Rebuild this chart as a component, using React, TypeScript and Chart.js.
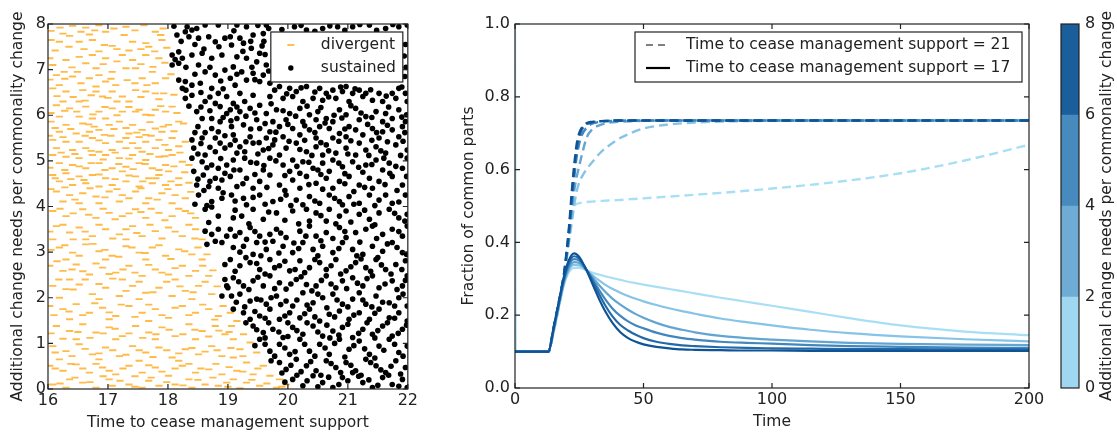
import React, { useEffect, useRef } from "react";
import { Chart, registerables } from "chart.js";

Chart.register(...registerables);

const FONT = "'DejaVu Sans', sans-serif";
const TICK_FONT = { family: FONT, size: 16 };
const LABEL_FONT = { family: FONT, size: 15.5 };
const TEXT_COLOR = "#222";
const ORANGE = "rgba(255,168,20,0.78)";

// ---------------- Left panel: scatter ----------------
const scatterXTitle = "Time to cease management support";
const scatterYTitle = "Additional change needs per commonality change";
const scatterLegendLabels = ["divergent", "sustained"];

const divergentPoints: [number, number][] = [
  [16.41,7.96],[16.63,7.92],[16.85,7.97],[17.30,7.94],
  [16.25,7.79],[16.36,7.74],[16.69,7.77],[16.96,7.83],[17.27,7.76],[17.79,7.83],[17.88,7.76],
  [16.05,7.65],[16.19,7.61],[16.52,7.61],[16.74,7.65],[16.94,7.54],[17.07,7.52],[17.41,7.61],[17.63,7.58],[17.68,7.50],[17.90,7.65],
  [16.08,7.10],[16.30,7.21],[16.52,7.28],[16.74,7.32],[16.96,7.25],[17.24,7.32],[17.41,7.21],[17.63,7.32],[17.85,7.25],
  [16.63,7.14],[16.80,7.03],[17.07,6.95],[17.30,7.03],[17.46,7.03],[16.49,6.95],[16.27,6.95],[17.74,6.95],
  [16.14,6.88],[16.41,6.85],[16.69,6.81],[16.96,6.74],[17.13,6.66],[17.32,6.77],[17.57,6.81],[17.79,6.70],[17.96,6.81],[16.19,6.66],[16.80,6.63],
  [16.08,6.59],[16.30,6.52],[16.58,6.55],[16.72,6.44],[16.91,6.41],[17.07,6.52],[17.24,6.41],[17.46,6.55],[17.63,6.52],[17.79,6.48],[17.93,6.48],[16.52,6.30],[16.25,6.30],[17.35,6.30],
  [16.14,6.22],[16.36,6.15],[16.63,6.19],[16.85,6.08],[17.07,6.15],[17.24,6.08],[17.46,6.08],[17.63,6.01],[17.79,6.12],[17.96,6.08],[16.19,5.97],[16.52,5.97],[16.74,5.93],[16.96,5.93],[18.07,6.19],
  [16.05,5.86],[16.30,5.79],[16.58,5.82],[16.77,5.75],[17.02,5.79],[17.19,5.86],[17.41,5.79],[17.57,5.68],[17.79,5.71],[18.01,5.79],[18.18,5.86],[18.26,5.82],[16.19,5.64],[16.47,5.60],[16.69,5.64],[16.94,5.57],[17.35,5.60],[17.63,5.57],[17.90,5.64],
  [16.08,5.46],[16.30,5.42],[16.52,5.42],[16.74,5.50],[16.96,5.39],[17.19,5.42],[17.41,5.39],[17.63,5.42],[17.85,5.46],[18.07,5.50],[18.29,5.42],[16.14,5.28],[16.41,5.24],[16.63,5.28],[16.85,5.20],[17.07,5.24],[17.30,5.28],[17.57,5.20],[17.79,5.28],[18.01,5.24],
  [16.08,5.13],[16.30,5.09],[16.52,5.06],[16.74,5.13],[16.96,5.13],[17.19,5.06],[17.41,5.13],[17.63,5.02],[17.85,5.09],[18.07,5.13],[18.24,4.98],[18.35,4.91],[16.19,4.95],[16.41,4.91],[16.63,4.84],[16.85,4.95],[17.07,4.84],[17.30,4.87],[17.52,4.95],[17.74,4.84],[17.96,4.91],
  [16.08,4.69],[16.30,4.73],[16.52,4.66],[16.74,4.69],[16.96,4.62],[17.24,4.77],[17.46,4.66],[17.68,4.62],[17.85,4.69],[18.01,4.77],[18.18,4.62],[16.19,4.55],[16.41,4.47],[16.63,4.51],[16.85,4.44],[17.07,4.47],[17.30,4.55],[17.52,4.44],[17.74,4.51],[17.96,4.47],[18.18,4.47],
  [16.14,4.33],[16.36,4.25],[16.58,4.29],[16.80,4.22],[17.02,4.33],[17.24,4.25],[17.46,4.33],[17.68,4.18],[17.90,4.29],[18.12,4.25],[18.29,4.18],[16.25,4.11],[16.52,4.07],[16.85,4.07],[17.19,4.11],[17.63,4.07],[18.07,4.07],
  [16.08,3.90],[16.30,3.79],[16.58,3.94],[16.80,3.75],[17.02,3.86],[17.24,3.79],[17.46,3.94],[17.63,3.75],[17.85,3.86],[18.07,3.79],[18.29,3.90],[18.46,3.75],
  [16.14,3.57],[16.36,3.43],[16.52,3.54],[16.74,3.35],[16.96,3.50],[17.19,3.39],[17.41,3.57],[17.57,3.35],[17.79,3.46],[18.01,3.54],[18.24,3.35],[18.46,3.50],[18.57,3.28],[16.08,3.28],[16.63,3.28],[17.30,3.28],
  [16.19,3.10],[16.41,2.99],[16.63,3.17],[16.85,3.02],[17.07,2.92],[17.30,3.13],[17.52,2.99],[17.74,3.10],[17.96,2.92],[18.18,3.06],[18.40,2.95],[18.57,2.84],[16.30,2.84],[16.96,2.84],[17.63,2.84],
  [16.03,2.70],[16.25,2.59],[16.47,2.73],[16.69,2.51],[16.91,2.66],[17.13,2.55],[17.35,2.70],[17.57,2.48],[17.79,2.62],[18.01,2.51],[18.24,2.70],[18.46,2.59],[18.68,2.48],[16.36,2.40],[17.24,2.40],[18.12,2.40],
  [16.08,2.26],[16.30,2.19],[16.52,2.29],[16.74,2.08],[16.96,2.22],[17.19,2.04],[17.41,2.26],[17.63,2.11],[17.85,2.22],[18.07,2.04],[18.29,2.15],[18.51,2.26],[18.73,2.08],[16.19,2.00],[16.85,1.97],[17.52,1.97],[18.40,1.97],
  [16.03,1.82],[16.25,1.75],[16.47,1.86],[16.69,1.67],[16.91,1.78],[17.13,1.60],[17.35,1.82],[17.57,1.67],[17.79,1.75],[18.01,1.56],[18.24,1.82],[18.46,1.67],[18.68,1.75],[18.84,1.60],[16.36,1.53],[17.02,1.53],[17.68,1.49],
  [16.14,1.38],[16.36,1.27],[16.58,1.42],[16.80,1.24],[17.02,1.35],[17.24,1.16],[17.46,1.38],[17.68,1.24],[17.90,1.35],[18.12,1.16],[18.35,1.42],[18.57,1.27],[18.79,1.38],[18.95,1.20],[16.47,1.09],[17.13,1.09],[17.79,1.09],[18.46,1.09],
  [16.08,0.94],[16.30,0.83],[16.52,0.98],[16.74,0.76],[16.96,0.91],[17.19,0.72],[17.41,0.94],[17.63,0.80],[17.85,0.91],[18.07,0.69],[18.29,0.87],[18.51,0.76],[18.73,0.94],[18.90,0.72],[16.19,0.65],[16.85,0.65],[17.52,0.62],[18.18,0.62],
  [16.03,0.51],[16.25,0.40],[16.47,0.54],[16.69,0.36],[16.91,0.47],[17.13,0.32],[17.35,0.51],[17.57,0.36],[17.79,0.47],[18.01,0.29],[18.24,0.51],[18.46,0.36],[18.68,0.43],[18.90,0.32],[16.36,0.21],[17.02,0.21],[17.68,0.18],[18.35,0.21],
  [16.08,0.10],[16.30,0.03],[16.58,0.14],[16.80,0.03],[17.07,0.07],[17.35,0.10],[17.57,0.03],[17.85,0.07],[18.12,0.10],[18.40,0.03],[18.62,0.10],[18.84,0.07],[18.98,0.14],
  [19.04,1.67],[19.15,1.49],[19.06,1.38],[19.26,1.20],[19.09,1.09],[19.37,1.02],[19.20,0.87],[19.48,0.80],[19.09,0.69],[19.31,0.58],[19.59,0.51],[19.15,0.40],[19.42,0.32],[19.70,0.29],[19.86,0.21],[19.09,0.21],[19.31,0.14],[19.53,0.07],[19.81,0.03],[19.97,0.10],[19.20,0.02],
  [16.05,7.85],[16.20,7.92],[16.55,7.83],[16.78,7.86],[17.10,7.90],[17.45,7.86],[17.60,7.97],[17.92,7.90],
  [16.12,7.42],[16.35,7.50],[16.60,7.45],[16.85,7.40],[17.15,7.45],[17.35,7.42],[17.55,7.45],[17.78,7.40],[17.98,7.48],
  [16.03,7.25],[16.40,7.05],[16.92,7.12],[17.15,7.18],[17.55,7.12],[17.75,7.06],[17.95,7.15],
  [16.03,6.78],[16.28,6.80],[16.55,6.70],[16.85,6.88],[17.05,6.80],[17.45,6.70],[17.65,6.66],[18.05,6.90],
  [16.15,6.42],[16.42,6.40],[16.62,6.32],[16.80,6.52],[17.00,6.38],[17.15,6.30],[17.55,6.40],[17.85,6.35],[18.10,6.45],
  [16.05,6.05],[16.28,6.10],[16.48,6.08],[16.75,6.02],[16.95,6.18],[17.15,6.00],[17.35,6.18],[17.52,6.12],[17.72,6.00],[17.88,6.20],[18.15,6.05],
  [16.12,5.72],[16.38,5.70],[16.68,5.80],[16.85,5.68],[17.10,5.70],[17.30,5.72],[17.48,5.62],[17.70,5.85],[17.92,5.75],[18.10,5.65],
  [16.02,5.55],[16.25,5.52],[16.62,5.55],[16.85,5.45],[17.05,5.55],[17.30,5.50],[17.52,5.52],[17.72,5.55],[17.95,5.35],[18.18,5.32],
  [16.22,5.18],[16.45,5.15],[16.72,5.22],[16.92,5.03],[17.12,5.18],[17.35,5.05],[17.50,5.28],[17.70,5.15],[17.95,5.10],[18.20,5.18],
  [16.03,4.85],[16.28,4.80],[16.52,4.88],[16.72,4.95],[16.95,4.80],[17.18,4.93],[17.42,4.82],[17.62,4.93],[17.85,4.80],[18.10,4.88],[18.28,4.75],
  [16.12,4.62],[16.38,4.60],[16.60,4.58],[16.85,4.70],[17.12,4.60],[17.35,4.68],[17.58,4.55],[17.80,4.62],[18.05,4.55],[18.35,4.52],
  [16.05,4.38],[16.28,4.42],[16.45,4.15],[16.70,4.40],[16.95,4.20],[17.15,4.38],[17.35,4.18],[17.55,4.40],[17.82,4.15],[18.00,4.38],[18.38,4.32],
  [16.20,3.95],[16.42,3.85],[16.68,3.82],[16.92,3.95],[17.12,3.72],[17.35,3.85],[17.55,3.88],[17.72,3.95],[17.95,3.70],[18.18,3.95],[18.38,3.85],
  [16.03,3.45],[16.25,3.60],[16.42,3.28],[16.62,3.45],[16.85,3.60],[17.08,3.30],[17.30,3.50],[17.48,3.42],[17.70,3.60],[17.90,3.30],[18.12,3.45],[18.35,3.60],[18.45,3.30],
  [16.05,3.05],[16.28,3.15],[16.52,2.92],[16.75,3.18],[16.95,3.05],[17.18,2.90],[17.40,3.10],[17.62,2.98],[17.85,3.15],[18.05,2.85],[18.28,3.02],[18.50,3.10],[18.65,2.95],
  [16.15,2.80],[16.40,2.62],[16.58,2.58],[16.80,2.75],[17.02,2.52],[17.25,2.62],[17.45,2.55],[17.68,2.72],[17.90,2.55],[18.12,2.65],[18.35,2.48],[18.58,2.70],[18.75,2.60],
  [16.18,2.40],[16.42,2.18],[16.62,2.40],[16.85,2.30],[17.08,2.42],[17.30,2.15],[17.52,2.35],[17.75,2.12],[17.98,2.35],[18.20,2.25],[18.42,2.12],[18.62,2.35],[18.82,2.25],
  [16.10,1.62],[16.35,1.70],[16.58,1.62],[16.78,1.88],[17.02,1.68],[17.22,1.85],[17.45,1.58],[17.68,1.85],[17.90,1.62],[18.12,1.78],[18.35,1.62],[18.58,1.85],[18.78,1.52],[18.92,1.82],
  [16.05,1.22],[16.25,1.10],[16.50,1.25],[16.70,1.12],[16.92,1.22],[17.12,1.32],[17.35,1.22],[17.58,1.12],[17.80,1.20],[18.02,1.30],[18.25,1.20],[18.45,1.30],[18.68,1.15],[18.85,1.28],[19.02,1.25],
  [16.12,0.80],[16.40,0.72],[16.62,0.88],[16.85,0.78],[17.08,0.85],[17.30,0.75],[17.52,0.85],[17.75,0.70],[17.98,0.85],[18.18,0.78],[18.40,0.90],[18.62,0.82],[18.82,0.85],[19.05,0.90],[19.25,0.72],
  [16.12,0.45],[16.38,0.55],[16.58,0.45],[16.80,0.55],[17.02,0.40],[17.25,0.45],[17.45,0.28],[17.68,0.52],[17.90,0.38],[18.12,0.45],[18.35,0.55],[18.55,0.45],[18.80,0.55],[19.02,0.48],[19.25,0.38],[19.50,0.45],
  [16.20,0.12],[16.45,0.25],[16.70,0.15],[16.92,0.28],[17.20,0.18],[17.45,0.05],[17.72,0.25],[17.98,0.15],[18.25,0.08],[18.50,0.20],[18.75,0.25],[19.00,0.05],[19.40,0.20],[19.65,0.12],[19.90,0.05],
];

const sustainedPoints: [number, number][] = [
  [19.15,7.98],[19.31,7.94],[19.50,7.97],[19.64,7.98],[20.11,7.94],[20.31,7.87],[20.58,7.90],[20.83,7.94],[21.08,7.94],[21.36,7.98],[21.63,7.90],[21.85,7.94],[21.99,7.98],
  [19.04,7.72],[19.20,7.69],[19.42,7.76],[19.59,7.79],[21.97,7.05],[21.95,6.85],
  [19.06,7.54],[19.26,7.58],[19.39,7.47],[19.53,7.36],[19.15,7.28],[19.31,7.25],[19.48,7.17],[19.64,7.10],[19.09,7.06],[19.23,6.95],[19.42,6.92],[19.59,6.88],[19.04,6.81],[19.31,6.77],[19.53,6.74],[19.70,6.70],[19.12,6.66],
  [19.86,6.63],[20.03,6.59],[20.14,6.52],[20.31,6.63],[20.53,6.59],[20.64,6.48],[20.75,6.55],[20.91,6.52],[20.97,6.63],[21.08,6.48],[21.19,6.55],[21.30,6.48],[21.52,6.48],[21.74,6.48],[21.85,6.59],[21.96,6.48],[19.20,6.48],[19.42,6.44],[19.70,6.41],[19.92,6.37],[20.08,6.41],[20.25,6.30],[20.42,6.37],[20.58,6.33],[20.80,6.37],[21.02,6.30],[21.25,6.41],[21.41,6.33],[21.58,6.30],[21.80,6.37],[21.99,6.30],[19.09,6.26],[19.28,6.30],[19.53,6.22],
  [19.04,6.12],[19.20,6.08],[19.37,6.15],[19.64,6.04],[19.81,6.12],[20.03,6.04],[20.20,6.15],[20.36,6.01],[20.50,6.08],[20.64,5.93],[20.86,6.12],[20.97,6.01],[21.13,6.15],[21.30,5.97],[21.47,6.08],[21.63,6.04],[21.85,6.12],[21.98,6.01],[19.15,5.93],[19.48,5.90],[19.75,5.86],[19.97,5.90],[20.25,5.86],[20.47,5.90],[20.75,5.86],[21.19,5.90],[21.58,5.86],[21.74,5.93],[21.96,5.86],
  [19.06,5.75],[19.26,5.79],[19.53,5.71],[19.70,5.64],[19.86,5.75],[20.08,5.71],[20.36,5.68],[20.53,5.75],[20.69,5.71],[20.86,5.60],[21.02,5.75],[21.13,5.68],[21.25,5.57],[21.41,5.71],[21.58,5.64],[21.74,5.68],[21.91,5.75],[19.09,5.57],[19.37,5.53],[19.64,5.50],[19.92,5.53],[20.20,5.57],[20.47,5.50],[20.75,5.50],[20.97,5.53],[21.52,5.50],[21.85,5.53],
  [19.04,5.35],[19.20,5.31],[19.42,5.39],[19.59,5.24],[19.75,5.35],[19.97,5.28],[20.14,5.39],[20.31,5.20],[20.47,5.31],[20.64,5.35],[20.80,5.17],[20.97,5.28],[21.19,5.39],[21.30,5.24],[21.47,5.31],[21.63,5.17],[21.80,5.35],[21.99,5.24],[19.15,5.17],[19.86,5.13],[20.58,5.13],[21.13,5.13],
  [19.09,5.02],[19.28,5.06],[19.48,4.95],[19.70,5.06],[19.92,4.91],[20.08,5.02],[20.25,4.98],[20.42,4.84],[20.58,4.95],[20.75,5.02],[20.91,4.87],[21.08,4.98],[21.30,4.91],[21.47,5.02],[21.69,4.95],[21.91,4.84],[21.99,5.06],[19.20,4.80],[19.59,4.80],[20.03,4.77],[20.69,4.77],[21.58,4.80],
  [19.04,4.66],[19.31,4.62],[19.53,4.55],[19.70,4.69],[19.86,4.47],[20.08,4.58],[20.31,4.66],[20.47,4.51],[20.64,4.62],[20.86,4.55],[21.02,4.66],[21.19,4.47],[21.36,4.62],[21.52,4.55],[21.74,4.66],[21.91,4.47],[19.15,4.44],[19.42,4.40],[20.20,4.40],[20.75,4.40],[21.41,4.40],
  [19.06,4.25],[19.26,4.18],[19.53,4.25],[19.75,4.11],[19.97,4.25],[20.14,4.14],[20.36,4.22],[20.53,4.07],[20.69,4.25],[20.86,4.11],[21.02,4.22],[21.19,4.07],[21.36,4.25],[21.52,4.14],[21.74,4.07],[21.96,4.25],[19.31,4.04],[20.25,4.04],[20.91,4.04],[21.63,4.25],
  [18.32,7.94],[18.40,7.87],[18.29,7.83],[18.48,7.90],[18.62,7.98],[18.84,7.98],[18.15,7.76],[18.35,7.72],[18.51,7.69],[18.68,7.72],[18.79,7.61],[18.95,7.69],[18.07,7.32],[18.18,7.39],[18.24,7.25],[18.40,7.32],[18.57,7.36],[18.73,7.25],[18.90,7.32],[18.07,7.10],[18.18,7.14],[18.51,7.10],[18.62,6.95],[18.79,6.88],[18.95,6.99],
  [18.18,6.77],[18.29,6.74],[18.24,6.59],[18.40,6.66],[18.54,6.70],[18.73,6.59],[18.84,6.48],[18.98,6.41],[18.29,6.37],[18.40,6.44],[18.62,6.30],[18.79,6.26],[18.87,6.19],[18.48,6.08],[18.57,5.93],[18.73,5.93],[18.87,5.86],[18.98,6.04],[18.73,5.71],[18.84,5.64],
  [18.40,5.46],[18.57,5.50],[18.79,5.50],[18.87,5.39],[18.43,5.28],[18.62,5.13],[18.79,5.20],[18.95,5.28],[18.40,5.06],[18.57,4.98],[18.73,4.91],[18.84,4.84],[18.98,4.91],[18.43,4.77],[18.59,4.69],[18.79,4.62],[18.95,4.73],[18.48,4.47],[18.68,4.44],[18.84,4.40],[18.51,4.25],[18.73,4.11],[18.90,4.18],
  [18.62,3.94],[18.73,3.99],[18.68,3.65],[18.62,3.46],[18.73,3.39],[18.84,3.50],[18.79,3.24],[18.65,3.17],[18.90,3.21],[18.98,3.35],[18.95,2.73],[18.95,2.40],[18.90,2.04],[19.00,2.22],[18.84,3.79],
  [19.09,3.75],[19.23,3.79],[19.42,3.94],[19.81,3.86],[20.08,3.90],[20.31,3.94],[20.47,3.86],[20.69,3.94],[20.86,3.79],[20.97,3.90],[21.19,3.83],[21.36,3.72],[21.52,3.86],[21.69,3.94],[21.85,3.75],[21.99,3.83],[20.36,3.68],[20.64,3.68],[19.59,3.72],
  [19.04,3.50],[19.20,3.43],[19.37,3.54],[19.53,3.35],[19.70,3.39],[19.81,3.50],[19.97,3.32],[20.20,3.46],[20.36,3.57],[20.47,3.35],[20.64,3.43],[20.86,3.54],[20.97,3.32],[21.13,3.43],[21.30,3.50],[21.41,3.57],[21.58,3.39],[21.74,3.50],[21.91,3.35],[21.99,3.57],[19.31,3.28],
  [19.09,3.10],[19.26,3.13],[19.48,3.21],[19.64,3.06],[19.75,3.24],[19.92,3.13],[20.08,2.99],[20.25,3.21],[20.42,3.06],[20.58,3.13],[20.75,2.99],[20.91,3.21],[21.08,3.06],[21.25,2.95],[21.41,3.13],[21.58,3.02],[21.74,3.21],[21.91,2.99],[19.42,2.95],
  [19.04,2.84],[19.20,2.70],[19.37,2.77],[19.53,2.62],[19.70,2.84],[19.86,2.70],[20.03,2.59],[20.20,2.81],[20.36,2.66],[20.53,2.77],[20.64,2.62],[20.80,2.84],[20.97,2.59],[21.13,2.77],[21.30,2.66],[21.47,2.84],[21.63,2.62],[21.80,2.73],[21.96,2.81],
  [19.09,2.44],[19.26,2.26],[19.42,2.37],[19.59,2.26],[19.70,2.48],[19.86,2.33],[19.97,2.19],[20.14,2.40],[20.31,2.29],[20.47,2.26],[20.64,2.48],[20.80,2.22],[20.91,2.37],[21.08,2.44],[21.25,2.26],[21.41,2.48],[21.52,2.22],[21.74,2.37],[21.91,2.26],[21.99,2.48],[18.98,2.26],
  [19.06,2.04],[19.20,2.08],[19.37,1.93],[19.48,1.97],[19.64,1.86],[19.81,2.04],[19.97,1.93],[20.08,1.82],[20.25,2.11],[20.42,1.89],[20.58,2.00],[20.75,2.08],[20.91,1.86],[21.08,1.97],[21.19,2.11],[21.30,1.86],[21.47,2.04],[21.69,1.89],[21.85,2.00],[21.99,1.82],
  [19.09,1.75],[19.26,1.67],[19.37,1.53],[19.53,1.60],[19.70,1.75],[19.86,1.53],[20.03,1.67],[20.20,1.56],[20.36,1.75],[20.53,1.49],[20.69,1.64],[20.86,1.71],[21.02,1.53],[21.19,1.67],[21.36,1.53],[21.52,1.75],[21.69,1.56],[21.85,1.67],[21.99,1.49],
  [19.42,1.38],[19.59,1.24],[19.75,1.31],[19.92,1.13],[20.08,1.35],[20.25,1.20],[20.42,1.38],[20.58,1.16],[20.75,1.27],[20.91,1.35],[21.08,1.13],[21.25,1.31],[21.41,1.20],[21.58,1.38],[21.74,1.16],[21.91,1.31],
  [19.53,1.09],[19.70,0.83],[19.86,0.98],[20.03,0.76],[20.20,1.09],[20.36,0.83],[20.53,0.98],[20.69,0.76],[20.86,1.09],[21.02,0.87],[21.19,1.05],[21.36,0.76],[21.52,0.94],[21.69,1.09],[21.85,0.80],[21.99,0.94],
  [19.86,0.58],[19.97,0.43],[20.14,0.65],[20.31,0.51],[20.47,0.40],[20.64,0.62],[20.80,0.47],[20.97,0.58],[21.13,0.40],[21.30,0.65],[21.47,0.51],[21.63,0.36],[21.80,0.62],[21.96,0.47],
  [20.08,0.21],[20.25,0.07],[20.42,0.29],[20.58,0.14],[20.75,0.03],[20.91,0.25],[21.08,0.36],[21.25,0.14],[21.41,0.03],[21.58,0.25],[21.74,0.10],[21.91,0.21],[21.99,0.03],
  [19.10,7.85],[19.38,7.62],[19.57,7.52],[19.68,7.90],[19.25,7.40],[19.62,7.33],[19.40,7.05],[19.68,6.97],[19.15,6.90],[19.45,6.78],[19.60,7.62],
  [19.90,7.88],[20.22,7.97],[20.45,7.84],[20.70,7.96],[20.95,7.86],[21.20,7.99],[21.48,7.86],[21.75,7.99],[21.96,7.55],[21.94,7.30],
  [19.78,6.55],[19.98,6.47],[20.22,6.60],[20.45,6.51],[20.68,6.40],[20.88,6.62],[21.12,6.58],[21.38,6.56],[21.64,6.42],[21.90,6.62],
  [19.15,6.18],[19.45,6.05],[19.72,6.25],[19.92,6.10],[20.13,5.98],[20.32,6.20],[20.55,6.17],[20.77,6.00],[21.05,6.21],[21.22,6.05],[21.40,5.95],[21.68,6.18],[21.90,5.96],[19.30,5.98],[20.90,5.94],
  [19.05,5.88],[19.38,5.70],[19.62,5.82],[19.80,5.63],[20.00,5.80],[20.28,5.77],[20.45,5.62],[20.62,5.83],[20.95,5.70],[21.33,5.80],[21.48,5.62],[21.66,5.78],[21.95,5.62],
  [19.12,5.45],[19.30,5.42],[19.52,5.40],[19.78,5.46],[20.02,5.43],[20.28,5.45],[20.55,5.40],[20.85,5.43],[21.05,5.44],[21.40,5.45],[21.66,5.42],[21.92,5.43],[19.28,5.20],[19.50,5.15],[19.68,5.27],[20.20,5.25],[20.40,5.12],[20.68,5.22],[21.00,5.15],[21.35,5.12],[21.55,5.22],[21.88,5.12],
  [19.38,4.97],[19.60,4.90],[19.80,5.00],[20.15,4.88],[20.35,4.97],[20.50,4.80],[20.85,4.95],[21.18,4.86],[21.40,4.92],[21.60,5.06],[21.80,4.88],[19.10,4.80],[19.45,4.70],[19.95,4.68],[20.20,4.73],[20.55,4.70],[20.95,4.72],[21.25,4.75],[21.70,4.73],[21.98,4.66],
  [19.25,4.50],[19.65,4.42],[19.95,4.35],[20.35,4.48],[20.58,4.38],[20.95,4.50],[21.10,4.33],[21.28,4.42],[21.62,4.48],[21.82,4.35],[19.12,4.12],[19.42,4.20],[19.62,4.05],[19.88,4.16],[20.05,4.02],[20.45,4.12],[20.78,4.18],[21.10,4.05],[21.45,4.02],[21.85,4.10],
  [18.10,7.95],[18.22,7.62],[18.45,7.55],[18.60,7.45],[18.85,7.50],[18.12,7.22],[18.30,7.05],[18.45,6.90],[18.70,7.05],[18.88,6.75],[18.30,6.55],[18.55,6.50],[18.70,6.40],[18.92,6.58],[18.35,6.20],[18.55,6.18],[18.70,6.10],[18.92,5.95],[18.50,5.75],[18.62,5.62],[18.95,5.55],[18.45,5.62],[18.55,5.38],[18.70,5.30],[18.50,5.15],[18.88,5.05],[18.65,4.85],[18.50,4.60],[18.70,4.55],[18.90,4.58],[18.60,4.35],[18.92,4.30],[18.45,4.05],[18.65,4.02],
  [19.12,3.92],[19.35,3.62],[19.68,3.88],[19.95,3.70],[20.18,3.62],[20.55,3.80],[20.80,3.62],[21.05,3.66],[21.28,3.92],[21.45,3.60],[21.78,3.85],[21.95,3.68],
  [19.12,3.35],[19.45,3.45],[19.62,3.22],[19.88,3.42],[20.10,3.20],[20.30,3.35],[20.55,3.25],[20.75,3.30],[20.95,3.45],[21.20,3.22],[21.48,3.30],[21.66,3.18],[21.85,3.45],[19.20,3.00],[19.55,2.92],[19.85,2.98],[20.18,3.08],[20.50,2.92],[20.85,3.08],[21.15,2.92],[21.50,2.88],[21.82,3.10],[21.98,2.95],
  [19.12,2.58],[19.30,2.88],[19.48,2.75],[19.62,2.52],[19.78,2.66],[19.95,2.80],[20.12,2.62],[20.28,2.55],[20.45,2.84],[20.72,2.70],[20.88,2.52],[21.05,2.68],[21.22,2.85],[21.38,2.58],[21.56,2.72],[21.72,2.52],[21.90,2.62],
  [19.18,2.35],[19.35,2.18],[19.50,2.45],[19.78,2.20],[20.05,2.30],[20.22,2.46],[20.40,2.15],[20.56,2.38],[20.72,2.30],[20.98,2.20],[21.16,2.32],[21.32,2.42],[21.62,2.30],[21.82,2.18],[21.96,2.38],
  [19.14,1.90],[19.28,1.80],[19.55,1.95],[19.72,2.00],[19.88,1.85],[20.15,1.95],[20.32,1.84],[20.50,2.08],[20.65,1.78],[20.82,1.95],[21.00,1.80],[21.25,1.95],[21.40,1.80],[21.58,1.90],[21.78,1.82],[21.92,2.08],[19.45,1.70],[19.62,1.55],[19.95,1.60],[20.28,1.65],[20.45,1.58],[20.78,1.58],[21.10,1.62],[21.45,1.66],[21.78,1.55],
  [19.30,1.45],[19.48,1.30],[19.68,1.45],[19.85,1.25],[20.00,1.45],[20.15,1.28],[20.32,1.45],[20.50,1.25],[20.65,1.40],[20.85,1.18],[21.00,1.42],[21.18,1.22],[21.32,1.45],[21.50,1.28],[21.66,1.45],[21.84,1.22],[21.98,1.40],[19.62,1.12],[20.00,1.15],[20.70,1.12],[21.45,1.12],
  [19.45,0.95],[19.62,0.98],[19.78,0.72],[19.95,0.90],[20.12,0.82],[20.28,0.98],[20.45,0.72],[20.62,0.90],[20.78,1.00],[20.95,0.70],[21.10,0.95],[21.28,0.88],[21.45,0.68],[21.60,0.85],[21.78,0.98],[21.92,0.72],
  [19.72,0.62],[19.90,0.35],[20.05,0.52],[20.22,0.38],[20.38,0.60],[20.55,0.30],[20.72,0.56],[20.88,0.36],[21.05,0.52],[21.22,0.30],[21.38,0.58],[21.55,0.42],[21.72,0.50],[21.88,0.33],
  [19.95,0.15],[20.15,0.30],[20.32,0.18],[20.50,0.05],[20.68,0.26],[20.85,0.10],[21.00,0.18],[21.18,0.28],[21.35,0.20],[21.50,0.08],[21.68,0.30],[21.85,0.06],
];

// ---------------- Right panel: lines ----------------
const lineXTitle = "Time";
const lineYTitle = "Fraction of common parts";
const lineLegendLabels = [
  "Time to cease management support = 21",
  "Time to cease management support = 17",
];

// cease = 17 (solid), one array per change-need level, lightest -> darkest
const solidTimes = [0, 0.3, 13, 15, 17, 19, 21, 23, 25, 27, 29, 31, 33, 35, 38, 41, 44, 47, 50, 55, 60, 65, 70, 80, 90, 100, 115, 130, 150, 175, 200];
const solidLevel1 = [1.0, 0.1, 0.1, 0.152, 0.22, 0.282, 0.318, 0.33, 0.33, 0.326, 0.32, 0.315, 0.311, 0.307, 0.302, 0.297, 0.292, 0.288, 0.284, 0.278, 0.272, 0.266, 0.26, 0.248, 0.237, 0.226, 0.209, 0.192, 0.172, 0.155, 0.145];
const solidLevel2 = [0.1, 0.1, 0.1, 0.155, 0.222, 0.285, 0.325, 0.338, 0.337, 0.328, 0.317, 0.305, 0.294, 0.284, 0.272, 0.262, 0.253, 0.245, 0.238, 0.228, 0.219, 0.211, 0.204, 0.191, 0.181, 0.172, 0.16, 0.151, 0.142, 0.134, 0.128];
const solidLevel3 = [0.1, 0.1, 0.1, 0.158, 0.225, 0.29, 0.33, 0.346, 0.343, 0.33, 0.314, 0.297, 0.28, 0.265, 0.245, 0.229, 0.215, 0.203, 0.193, 0.179, 0.168, 0.16, 0.153, 0.143, 0.137, 0.133, 0.128, 0.124, 0.121, 0.119, 0.118];
const solidLevel4 = [0.1, 0.1, 0.1, 0.16, 0.228, 0.295, 0.338, 0.354, 0.35, 0.333, 0.312, 0.289, 0.266, 0.245, 0.218, 0.198, 0.183, 0.172, 0.164, 0.152, 0.143, 0.137, 0.133, 0.127, 0.124, 0.122, 0.118, 0.115, 0.113, 0.111, 0.11];
const solidLevel5 = [0.1, 0.1, 0.1, 0.163, 0.232, 0.3, 0.345, 0.362, 0.355, 0.335, 0.31, 0.282, 0.254, 0.228, 0.196, 0.173, 0.158, 0.146, 0.137, 0.127, 0.121, 0.117, 0.115, 0.112, 0.11, 0.109, 0.108, 0.107, 0.107, 0.106, 0.106];
const solidLevel6 = [0.1, 0.1, 0.1, 0.165, 0.235, 0.305, 0.352, 0.37, 0.36, 0.335, 0.305, 0.272, 0.24, 0.212, 0.178, 0.153, 0.137, 0.127, 0.12, 0.113, 0.109, 0.106, 0.105, 0.104, 0.103, 0.103, 0.102, 0.102, 0.102, 0.102, 0.102];

// cease = 21 (dashed)
const dashedTimes = [0, 13, 15, 17, 19, 20, 21, 22, 23, 24, 25, 26, 28, 30, 33, 36, 40, 45, 50, 60, 70, 80, 100, 125, 150, 175, 200];
const dashedLevel1 = [0.1, 0.1, 0.152, 0.22, 0.3, 0.36, 0.44, 0.49, 0.502, 0.506, 0.508, 0.509, 0.511, 0.512, 0.514, 0.515, 0.516, 0.519, 0.521, 0.526, 0.531, 0.536, 0.548, 0.566, 0.59, 0.625, 0.668];
const dashedLevel2 = [0.1, 0.1, 0.155, 0.222, 0.3, 0.35, 0.4, 0.45, 0.5, 0.54, 0.565, 0.58, 0.603, 0.62, 0.645, 0.663, 0.683, 0.7, 0.713, 0.724, 0.729, 0.732, 0.734, 0.735, 0.735, 0.735, 0.735];
const dashedLevel3 = [0.1, 0.1, 0.158, 0.225, 0.3, 0.355, 0.41, 0.48, 0.54, 0.58, 0.61, 0.64, 0.69, 0.71, 0.722, 0.728, 0.731, 0.733, 0.734, 0.735, 0.735, 0.735, 0.735, 0.735, 0.735, 0.735, 0.735];
const dashedLevel4 = [0.1, 0.1, 0.16, 0.228, 0.305, 0.36, 0.42, 0.5, 0.575, 0.635, 0.672, 0.695, 0.716, 0.726, 0.731, 0.733, 0.734, 0.735, 0.735, 0.735, 0.735, 0.735, 0.735, 0.735, 0.735, 0.735, 0.735];
const dashedLevel5 = [0.1, 0.1, 0.163, 0.232, 0.31, 0.365, 0.43, 0.515, 0.595, 0.655, 0.69, 0.71, 0.725, 0.73, 0.733, 0.734, 0.735, 0.735, 0.735, 0.735, 0.735, 0.735, 0.735, 0.735, 0.735, 0.735, 0.735];
const dashedLevel6 = [0.1, 0.1, 0.165, 0.235, 0.31, 0.37, 0.44, 0.53, 0.61, 0.67, 0.7, 0.715, 0.728, 0.731, 0.733, 0.734, 0.735, 0.735, 0.735, 0.735, 0.735, 0.735, 0.735, 0.735, 0.735, 0.735, 0.735];

const lineColors = ["#a9dff5", "#86c4e7", "#62a5d1", "#4186bd", "#2369a7", "#0e5396"];

// ---------------- Colorbar ----------------
const colorbarTitle = "Additional change needs per commonality change";
const colorbarBands = [2, 2, 2, 2];
const colorbarColors = ["#9fd6f0", "#6eacd6", "#468abe", "#1a5e9c"];

// ---------------- plugins ----------------
const framePlugin = {
  id: "frame",
  afterDraw(chart: any, _a: any, opts: any) {
    const { ctx, chartArea } = chart;
    const { left, top, right, bottom } = chartArea;
    ctx.save();
    ctx.strokeStyle = TEXT_COLOR;
    ctx.lineWidth = 1.2;
    if (opts && opts.ticks) {
      const tl = 5;
      const xs = chart.scales.x;
      const ys = chart.scales.y;
      ctx.beginPath();
      xs.ticks.forEach((t: any) => {
        const p = xs.getPixelForValue(t.value);
        ctx.moveTo(p, bottom); ctx.lineTo(p, bottom - tl);
        ctx.moveTo(p, top); ctx.lineTo(p, top + tl);
      });
      ys.ticks.forEach((t: any) => {
        const p = ys.getPixelForValue(t.value);
        ctx.moveTo(left, p); ctx.lineTo(left + tl, p);
        ctx.moveTo(right, p); ctx.lineTo(right - tl, p);
      });
      ctx.stroke();
    }
    ctx.strokeRect(left, top, right - left, bottom - top);
    ctx.restore();
  },
};

function drawLegendBox(ctx: any, x0: number, y0: number, w: number, h: number) {
  ctx.fillStyle = "#fff";
  ctx.fillRect(x0, y0, w, h);
  ctx.strokeStyle = TEXT_COLOR;
  ctx.lineWidth = 1.2;
  ctx.strokeRect(x0, y0, w, h);
}

const scatterLegendPlugin = {
  id: "scatterLegend",
  afterDraw(chart: any) {
    const { ctx, chartArea } = chart;
    const w = 132, h = 50;
    const x0 = chartArea.right - 5 - w;
    const y0 = chartArea.top + 8;
    ctx.save();
    drawLegendBox(ctx, x0, y0, w, h);
    ctx.strokeStyle = ORANGE;
    ctx.lineWidth = 1.9;
    ctx.beginPath();
    ctx.moveTo(x0 + 16.5, y0 + 13); ctx.lineTo(x0 + 23.5, y0 + 13);
    ctx.stroke();
    ctx.fillStyle = "#000";
    ctx.beginPath();
    ctx.arc(x0 + 20, y0 + 36, 2.7, 0, Math.PI * 2);
    ctx.fill();
    ctx.fillStyle = TEXT_COLOR;
    ctx.font = `${LABEL_FONT.size}px ${FONT}`;
    ctx.textBaseline = "middle";
    ctx.textAlign = "left";
    ctx.fillText(scatterLegendLabels[0], x0 + 50, y0 + 13);
    ctx.fillText(scatterLegendLabels[1], x0 + 50, y0 + 36);
    ctx.restore();
  },
};

const lineLegendPlugin = {
  id: "lineLegend",
  afterDraw(chart: any) {
    const { ctx, chartArea } = chart;
    const w = 387, h = 50;
    const x0 = chartArea.right - 7 - w;
    const y0 = chartArea.top + 8;
    ctx.save();
    drawLegendBox(ctx, x0, y0, w, h);
    ctx.lineWidth = 2.2;
    ctx.strokeStyle = "#7f7f7f";
    ctx.setLineDash([7, 5]);
    ctx.beginPath();
    ctx.moveTo(x0 + 11, y0 + 13); ctx.lineTo(x0 + 35, y0 + 13);
    ctx.stroke();
    ctx.setLineDash([]);
    ctx.strokeStyle = "#000";
    ctx.beginPath();
    ctx.moveTo(x0 + 11, y0 + 36); ctx.lineTo(x0 + 35, y0 + 36);
    ctx.stroke();
    ctx.fillStyle = TEXT_COLOR;
    ctx.font = `${LABEL_FONT.size}px ${FONT}`;
    ctx.textBaseline = "middle";
    ctx.textAlign = "left";
    ctx.fillText(lineLegendLabels[0], x0 + 51, y0 + 13);
    ctx.fillText(lineLegendLabels[1], x0 + 51, y0 + 36);
    ctx.restore();
  },
};

const colorbarLabelPlugin = {
  id: "cbLabel",
  afterDraw(chart: any) {
    const { ctx, chartArea } = chart;
    ctx.save();
    ctx.translate(57, (chartArea.top + chartArea.bottom) / 2);
    ctx.rotate(-Math.PI / 2);
    ctx.fillStyle = TEXT_COLOR;
    ctx.font = `${LABEL_FONT.size}px ${FONT}`;
    ctx.textAlign = "center";
    ctx.textBaseline = "middle";
    ctx.fillText(colorbarTitle, 0, 0);
    ctx.restore();
  },
};

const toXY = (xs: number[], ys: number[]) => xs.map((x, i) => ({ x, y: ys[i] }));

export default function App() {
  const leftRef = useRef<HTMLCanvasElement>(null);
  const rightRef = useRef<HTMLCanvasElement>(null);
  const cbRef = useRef<HTMLCanvasElement>(null);

  useEffect(() => {
    const charts: Chart[] = [];

    charts.push(
      new Chart(leftRef.current!, {
        type: "scatter",
        data: {
          datasets: [
            {
              label: scatterLegendLabels[1],
              data: sustainedPoints.map(([x, y]) => ({ x, y })),
              pointStyle: "circle",
              pointRadius: 2.8,
              backgroundColor: "#000",
              borderWidth: 0,
            },
            {
              label: scatterLegendLabels[0],
              data: divergentPoints.map(([x, y]) => ({ x, y })),
              pointStyle: "line",
              pointRadius: 3.6,
              borderColor: ORANGE,
              backgroundColor: ORANGE,
              borderWidth: 1.9,
            },
          ],
        },
        options: {
          responsive: false,
          animation: false,
          layout: { padding: { left: 0, right: 10, top: 24, bottom: 0 } },
          plugins: { legend: { display: false }, tooltip: { enabled: false }, frame: { ticks: true } } as any,
          scales: {
            x: {
              type: "linear",
              min: 16,
              max: 22,
              ticks: { stepSize: 1, font: TICK_FONT, color: TEXT_COLOR, padding: 2, maxRotation: 0 },
              grid: { display: false, drawTicks: false },
              border: { display: false },
              title: { display: true, text: scatterXTitle, font: LABEL_FONT, color: TEXT_COLOR, padding: { top: 0, bottom: 0 } },
              afterFit: (s: any) => { s.height = 43; },
            },
            y: {
              type: "linear",
              min: 0,
              max: 8,
              ticks: { stepSize: 1, font: TICK_FONT, color: TEXT_COLOR, padding: 2 },
              grid: { display: false, drawTicks: false },
              border: { display: false },
              title: { display: true, text: scatterYTitle, font: LABEL_FONT, color: TEXT_COLOR, padding: { top: 9, bottom: 0 } },
              afterFit: (s: any) => { s.width = 48; },
            },
          },
        } as any,
        plugins: [framePlugin, scatterLegendPlugin],
      })
    );

    const solidLevels = [solidLevel1, solidLevel2, solidLevel3, solidLevel4, solidLevel5, solidLevel6];
    const dashedLevels = [dashedLevel1, dashedLevel2, dashedLevel3, dashedLevel4, dashedLevel5, dashedLevel6];
    const datasets: any[] = [];
    for (let i = solidLevels.length - 1; i >= 0; i--) {
      datasets.push({
        data: toXY(solidTimes, solidLevels[i]),
        borderColor: lineColors[i],
        borderWidth: 2.2,
        pointRadius: 0,
        fill: false,
        cubicInterpolationMode: "monotone",
      });
    }
    for (let i = dashedLevels.length - 1; i >= 0; i--) {
      datasets.push({
        data: toXY(dashedTimes, dashedLevels[i]),
        borderColor: lineColors[i],
        borderWidth: 2.4,
        borderDash: [9, 5],
        pointRadius: 0,
        fill: false,
        cubicInterpolationMode: "monotone",
      });
    }
    charts.push(
      new Chart(rightRef.current!, {
        type: "line",
        data: { datasets },
        options: {
          responsive: false,
          animation: false,
          layout: { padding: { left: 0, right: 21, top: 24, bottom: 0 } },
          plugins: { legend: { display: false }, tooltip: { enabled: false }, frame: { ticks: true } } as any,
          scales: {
            x: {
              type: "linear",
              min: 0,
              max: 200,
              ticks: { stepSize: 50, font: TICK_FONT, color: TEXT_COLOR, padding: 2, maxRotation: 0 },
              grid: { display: false, drawTicks: false },
              border: { display: false },
              title: { display: true, text: lineXTitle, font: LABEL_FONT, color: TEXT_COLOR, padding: { top: 0, bottom: 1 } },
              afterFit: (s: any) => { s.height = 44; },
            },
            y: {
              type: "linear",
              min: 0,
              max: 1,
              ticks: {
                stepSize: 0.2,
                font: TICK_FONT,
                color: TEXT_COLOR,
                padding: 5,
                callback: (v: any) => Number(v).toFixed(1),
              },
              grid: { display: false, drawTicks: false },
              border: { display: false },
              title: { display: true, text: lineYTitle, font: LABEL_FONT, color: TEXT_COLOR, padding: { top: 20, bottom: 0 } },
              afterFit: (s: any) => { s.width = 75; },
            },
          },
        } as any,
        plugins: [framePlugin, lineLegendPlugin],
      })
    );

    charts.push(
      new Chart(cbRef.current!, {
        type: "bar",
        data: {
          labels: ["cb"],
          datasets: colorbarBands.map((v, i) => ({
            data: [v],
            backgroundColor: colorbarColors[i],
            borderWidth: 0,
            barPercentage: 1,
            categoryPercentage: 1,
          })),
        },
        options: {
          responsive: false,
          animation: false,
          layout: { padding: { left: 11, right: 0, top: 24, bottom: 44 } },
          plugins: { legend: { display: false }, tooltip: { enabled: false }, frame: { ticks: false } } as any,
          scales: {
            x: { stacked: true, display: false },
            y: {
              stacked: true,
              position: "right",
              min: 0,
              max: 8,
              ticks: { stepSize: 2, font: TICK_FONT, color: TEXT_COLOR, padding: 6 },
              grid: { display: false, drawTicks: false },
              border: { display: false },
              afterFit: (s: any) => { s.width = 38; },
            },
          },
        } as any,
        plugins: [framePlugin, colorbarLabelPlugin],
      })
    );

    return () => charts.forEach((c) => c.destroy());
  }, []);

  return (
    <div style={{ position: "absolute", left: 0, top: 0, width: 1117, height: 432, background: "#fff", overflow: "hidden" }}>
      <canvas ref={leftRef} width={420} height={432} style={{ position: "absolute", left: 0, top: 0 }} />
      <canvas ref={rightRef} width={610} height={432} style={{ position: "absolute", left: 440, top: 0 }} />
      <canvas ref={cbRef} width={67} height={432} style={{ position: "absolute", left: 1050, top: 0 }} />
    </div>
  );
}
